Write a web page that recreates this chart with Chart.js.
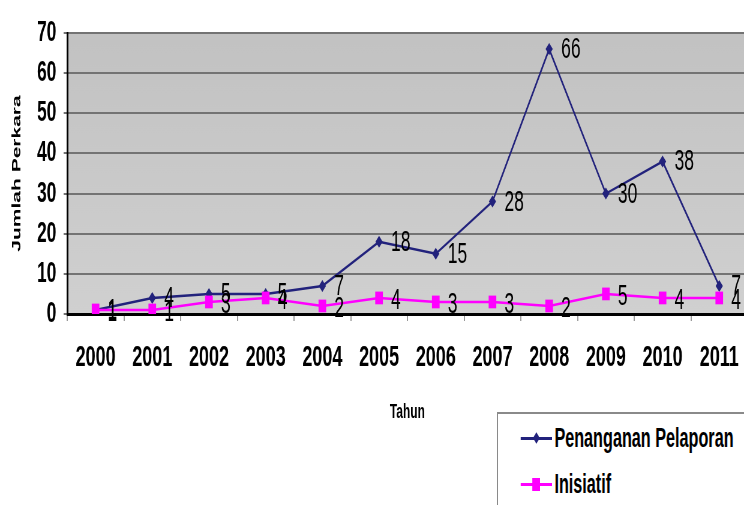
<!DOCTYPE html>
<html>
<head>
<meta charset="utf-8">
<script src="https://cdn.jsdelivr.net/npm/chart.js@4.4.1/dist/chart.umd.min.js"></script>
<style>
  html, body { margin: 0; padding: 0; background: #fff; overflow: hidden; width: 744px; height: 505px; }
  #wrap { position: absolute; left: 0; top: 0; width: 1260px; height: 505px; transform: scaleX(0.6); transform-origin: 0 0; }
  #chart { position: absolute; left: 0; top: 0; }
  #legend { position: absolute; left: 828px; top: 412px; width: 520px; height: 130px; border: 2px solid #8a8a8a; background: #fff; box-sizing: border-box; }
  .item { position: absolute; left: 0; height: 30px; width: 100%; }
  .line { position: absolute; left: 38px; width: 52px; top: 14px; height: 3px; }
  .mk { position: absolute; }
  .txt { position: absolute; left: 94px; top: 0; font: bold 27px "Liberation Sans", Arial, sans-serif; line-height: 30px; color: #000; white-space: nowrap; }
</style>
</head>
<body>
<div id="wrap">
  <canvas id="chart" width="1260" height="505"></canvas>
  <div id="legend"></div>
</div>
<script>
const years = ["2000","2001","2002","2003","2004","2005","2006","2007","2008","2009","2010","2011"];
const penangananPelaporan = [1, 4, 5, 5, 7, 18, 15, 28, 66, 30, 38, 7];
const inisiatif = [1, 1, 3, 4, 2, 4, 3, 3, 2, 5, 4, 4];
const seriesNames = ["Penanganan Pelaporan", "Inisiatif"];
const yTicks = [0, 10, 20, 30, 40, 50, 60, 70];
const xTitle = "Tahun";
const yTitle = "Jumlah Perkara";

const NAVY = "#22227c";
const PINK = "#ff00ff";
const FONT = '"Liberation Sans", Arial, sans-serif';

const bgPlugin = {
  id: 'plotBg',
  beforeDraw(chart) {
    const {ctx, chartArea: a} = chart;
    const g = ctx.createLinearGradient(0, a.top, 0, a.bottom);
    g.addColorStop(0, '#c2c2c2');
    g.addColorStop(1, '#d0d0d0');
    ctx.save();
    ctx.fillStyle = g;
    ctx.fillRect(a.left, a.top, a.right - a.left, a.bottom - a.top);
    ctx.restore();
  }
};

const labelPlugin = {
  id: 'valueLabels',
  afterDatasetsDraw(chart) {
    const {ctx} = chart;
    ctx.save();
    ctx.font = '29px ' + FONT;
    ctx.fillStyle = '#000';
    ctx.textAlign = 'left';
    ctx.textBaseline = 'middle';
    chart.data.datasets.forEach((ds, di) => {
      const meta = chart.getDatasetMeta(di);
      meta.data.forEach((pt, i) => {
        ctx.fillText(String(ds.data[i]), pt.x + 20, pt.y + (di === 1 ? 3 : 1));
      });
    });
    ctx.restore();
  }
};

const chart = new Chart(document.getElementById('chart'), {
  type: 'line',
  data: {
    labels: years,
    datasets: [
      {
        label: seriesNames[0],
        data: penangananPelaporan,
        borderColor: NAVY,
        backgroundColor: NAVY,
        borderWidth: 2.5,
        pointStyle: 'rectRot',
        pointRadius: 6,
        pointBorderWidth: 0,
        tension: 0,
        order: 1
      },
      {
        label: seriesNames[1],
        data: inisiatif,
        borderColor: PINK,
        backgroundColor: PINK,
        borderWidth: 2.5,
        pointStyle: 'rect',
        pointRadius: 9,
        pointBorderWidth: 0,
        tension: 0,
        order: 0
      }
    ]
  },
  options: {
    responsive: false,
    animation: false,
    devicePixelRatio: 1,
    layout: { padding: { top: 33, right: 14, bottom: 81, left: 0 } },
    plugins: { legend: { display: false }, tooltip: { enabled: false } },
    scales: {
      x: {
        type: 'category',
        offset: true,
        grid: { offset: true, drawOnChartArea: false, drawTicks: true, tickLength: 7, color: '#9a9a9a', lineWidth: 2 },
        border: { color: '#000', width: 3 },
        ticks: { color: '#000', font: { family: FONT, size: 30, weight: 'bold' }, padding: 19, maxRotation: 0, autoSkip: false },
        title: { display: true, text: xTitle, color: '#000', font: { family: FONT, size: 20, weight: 'bold' }, padding: { top: 0, bottom: 0 } },
        afterFit(s) { s.height = 110; }
      },
      y: {
        min: 0, max: 70,
        afterBuildTicks(s) { s.ticks = yTicks.map(v => ({ value: v })); },
        grid: { color: '#737373', lineWidth: 2, tickLength: 6 },
        border: { color: '#000', width: 3 },
        ticks: { color: '#000', font: { family: FONT, size: 29, weight: 'bold' }, padding: 12 },
        title: { display: true, text: yTitle, color: '#000', font: { family: FONT, size: 21, weight: 'bold' }, padding: { top: 16, bottom: 0 } },
        afterFit(s) { s.width = 112; }
      }
    }
  },
  plugins: [bgPlugin, labelPlugin]
});

// HTML legend built from the datasets
const legend = document.getElementById('legend');
const rowTops = [9, 55];
chart.data.datasets.forEach((ds, i) => {
  const item = document.createElement('div');
  item.className = 'item';
  item.style.top = rowTops[i] + 'px';
  const ln = document.createElement('div');
  ln.className = 'line';
  ln.style.background = ds.borderColor;
  item.appendChild(ln);
  const mk = document.createElement('div');
  mk.className = 'mk';
  mk.style.background = ds.backgroundColor;
  if (ds.pointStyle === 'rect') {
    mk.style.width = '13px'; mk.style.height = '13px';
    mk.style.left = '57px'; mk.style.top = '9px';
  } else {
    mk.style.width = '8px'; mk.style.height = '8px';
    mk.style.left = '60px'; mk.style.top = '11px';
    mk.style.transform = 'rotate(45deg)';
  }
  item.appendChild(mk);
  const t = document.createElement('div');
  t.className = 'txt';
  t.textContent = ds.label;
  item.appendChild(t);
  legend.appendChild(item);
});
</script>
</body>
</html>
